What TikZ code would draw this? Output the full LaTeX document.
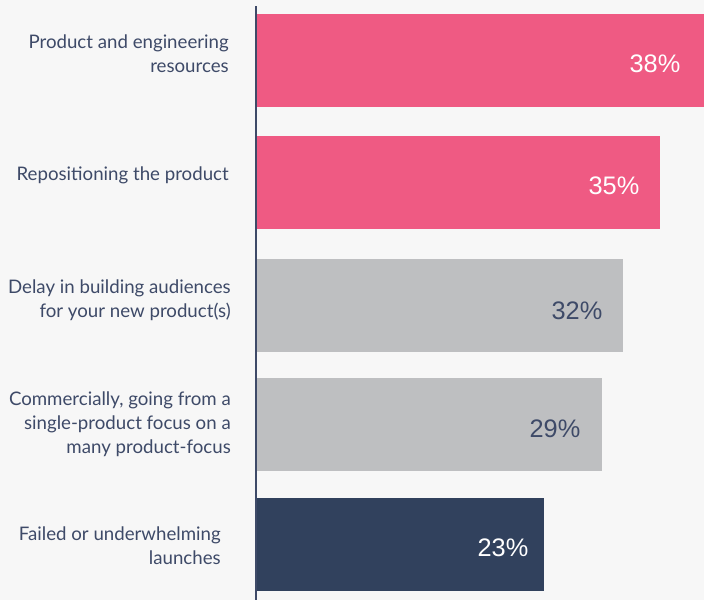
\documentclass[tikz,border=0pt]{standalone}
\usepackage{fontspec}
\setmainfont{Lato}
\newfontfamily\pctfont{Liberation Sans}
\usepackage{tikz}
\usetikzlibrary{positioning}
\definecolor{bgcol}{HTML}{F7F7F7}
\definecolor{pinkbar}{HTML}{EF5A83}
\definecolor{greybar}{HTML}{BEBFC1}
\definecolor{navybar}{HTML}{31415D}
\definecolor{labcol}{HTML}{3E4A68}
\tikzset{
  lab/.style={anchor=east, inner sep=0.75pt, align=right, text=labcol, font=\fontsize{14}{18}\selectfont},
  pct/.style={inner sep=0.75pt, font=\pctfont\fontsize{19}{22}\selectfont},
}

\begin{document}
\begin{tikzpicture}[x=0.75pt,y=0.75pt,yscale=-1,xscale=1]
%set diagram 704 x 600
\fill[bgcol] (0,0) rectangle (704,600);
\useasboundingbox (0,0) rectangle (704,600);

%Shape: Rectangle [id:bar1] 
\fill[pinkbar] (256,14) rectangle (704,107);
%Shape: Rectangle [id:bar2] 
\fill[pinkbar] (256,136) rectangle (660,229);
%Shape: Rectangle [id:bar3] 
\fill[greybar] (256,259) rectangle (623,352);
%Shape: Rectangle [id:bar4] 
\fill[greybar] (256,378) rectangle (602,471);
%Shape: Rectangle [id:bar5] 
\fill[navybar] (256,498) rectangle (544,591);

%Straight Lines [id:axis] 
\coordinate (axtop) at (256,6);
\coordinate (axbot) at (256,600);
\draw[labcol, line width=1.1pt] (axtop) -- (axbot);

% Text Node
\node [lab] (lab1) at (230,54) {Product and engineering\\resources};
% Text Node
\node [lab] (lab2) at (230,175) {Repositioning the product};
% Text Node
\node [lab] (lab3) at (232,300) {Delay in building audiences\\for your new product(s)};
% Text Node
\node [lab] (lab4) at (232,424) {Commercially, going from a\\single-product focus on a\\many product-focus};
% Text Node
\node [lab] (lab5) at (222,546) {Failed or underwhelming\\launches};

% Text Node
\node [pct, text=white] (pct1) at (655,64) {38\%};
% Text Node
\node [pct, text=white] (pct2) at (614,186) {35\%};
% Text Node
\node [pct, text=labcol] (pct3) at (577,311) {32\%};
% Text Node
\node [pct, text=labcol] (pct4) at (555,429) {29\%};
% Text Node
\node [pct, text=white] (pct5) at (503,548) {23\%};

\end{tikzpicture}
\end{document}
